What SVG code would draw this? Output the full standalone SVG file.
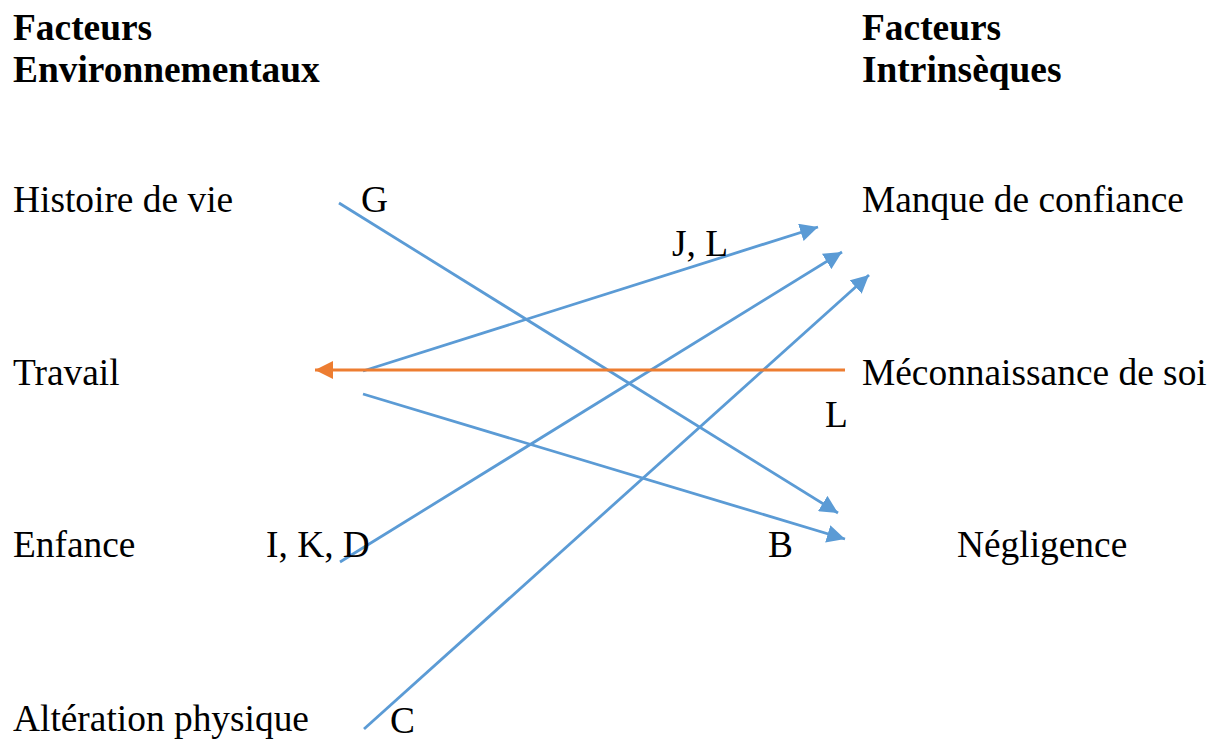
<svg xmlns="http://www.w3.org/2000/svg" width="1216" height="742" viewBox="0 0 1216 742">
<style>
text{font-family:"Liberation Serif","Times New Roman",serif;font-size:37.4px;fill:#000}
.b{font-weight:bold}
.bl{stroke:#5B9BD5;stroke-width:2.8;fill:none}
.or{stroke:#ED7D31;stroke-width:2.8;fill:none}
</style>
<defs>
<marker id="ao" viewBox="0 0 10 10" refX="10" refY="5" markerWidth="18" markerHeight="18" orient="auto" markerUnits="userSpaceOnUse">
<path d="M0,0 L10,5 L0,10 z" fill="#ED7D31"/>
</marker>
<marker id="ab2" viewBox="0 0 10 10" refX="10" refY="5" markerWidth="18" markerHeight="18" orient="auto" markerUnits="userSpaceOnUse">
<path d="M0,0 L10,5 L0,10 z" fill="#5B9BD5"/>
</marker>
</defs>
<g id="header-env"><text class="b" x="13" y="40">Facteurs</text><text class="b" x="13" y="82">Environnementaux</text></g>
<g id="header-int"><text class="b" x="862" y="40">Facteurs</text><text class="b" x="862" y="82">Intrinsèques</text></g>
<g id="n-histoire"><text x="13" y="212">Histoire de vie</text></g>
<g id="n-travail"><text x="13" y="385">Travail</text></g>
<g id="n-enfance"><text x="13" y="557">Enfance</text></g>
<g id="n-alteration"><text x="13" y="731">Altération physique</text></g>
<g id="n-manque"><text x="862" y="212">Manque de confiance</text></g>
<g id="n-meconnaissance"><text x="862" y="385">Méconnaissance de soi</text></g>
<g id="n-negligence"><text x="957" y="557">Négligence</text></g>
<g id="connectors">
<line class="bl" x1="339" y1="203" x2="838" y2="513" marker-end="url(#ab2)"/>
<line class="bl" x1="363" y1="371" x2="818" y2="227" marker-end="url(#ab2)"/>
<line class="bl" x1="340" y1="562" x2="842" y2="252" marker-end="url(#ab2)"/>
<line class="bl" x1="364" y1="729" x2="869" y2="275" marker-end="url(#ab2)"/>
<line class="bl" x1="363" y1="394" x2="845" y2="539" marker-end="url(#ab2)"/>
<line class="or" x1="845" y1="370" x2="315" y2="370" marker-end="url(#ao)"/>
</g>
<g id="labels">
<text x="361" y="212">G</text>
<text x="672" y="256">J, L</text>
<text x="825" y="427">L</text>
<text x="266" y="557">I, K, D</text>
<text x="768" y="557">B</text>
<text x="390" y="733">C</text>
</g>
</svg>
